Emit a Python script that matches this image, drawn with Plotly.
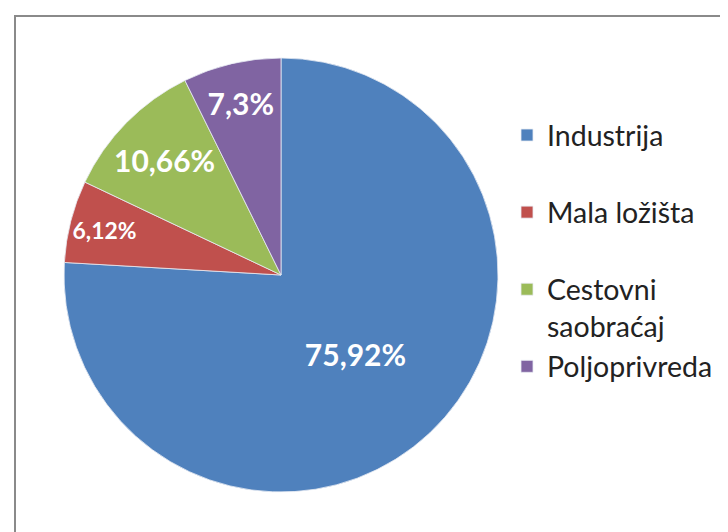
import plotly.graph_objects as go

categories = ["Industrija", "Mala ložišta", "Cestovni<br>saobraćaj", "Poljoprivreda"]
values = [75.92, 6.12, 10.66, 7.3]
value_labels = ["75,92%", "6,12%", "10,66%", "7,3%"]
colors = ["#4F81BD", "#C0504D", "#9BBB59", "#8064A2"]

W, H = 728, 532
cx, cy, r = 273, 267, 217

legend_names = [c + "<br> " if "<br>" not in c else c for c in categories]

fig = go.Figure(go.Pie(
    labels=legend_names,
    values=values,
    text=value_labels,
    textinfo="text",
    textposition="inside",
    insidetextorientation="horizontal",
    textfont=dict(family="Lato", size=30, color="white", weight="bold"),
    marker=dict(colors=colors, line=dict(color="#E8ECF4", width=0.8)),
    sort=False,
    direction="clockwise",
    rotation=0,
    domain=dict(x=[(cx - r) / W, (cx + r) / W], y=[(H - cy - r) / H, (H - cy + r) / H]),
    hoverinfo="label+percent",
))

fig.update_layout(
    width=W, height=H,
    margin=dict(l=0, r=0, t=0, b=0),
    paper_bgcolor="white",
    plot_bgcolor="white",
    showlegend=True,
    legend=dict(
        x=499 / W, y=1 - 102 / H, xanchor="left", yanchor="top",
        font=dict(family="Lato", size=28.5, color="#222222"),
        valign="top",
        itemwidth=30,
        bgcolor="rgba(0,0,0,0)",
    ),
    shapes=[dict(
        type="rect", xref="paper", yref="paper",
        x0=7 / W, x1=1.05, y0=-0.05, y1=1 - 8 / H,
        line=dict(color="#8a8a8a", width=2), fillcolor="rgba(0,0,0,0)", layer="below",
    )],
)

fig.write_html("out.html")
